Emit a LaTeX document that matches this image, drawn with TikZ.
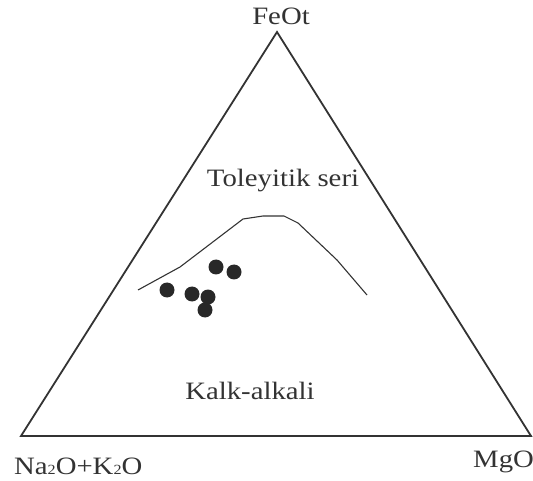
\documentclass[tikz,border=0pt]{standalone}
\usepackage{fontspec}
\setmainfont[FakeStretch=1.15]{Liberation Serif}
\usepackage{tikz}
\usetikzlibrary{positioning}
\definecolor{ink}{HTML}{333333}
\definecolor{dotink}{HTML}{282828}

\begin{document}
\begin{tikzpicture}[x=1pt,y=-1pt,
		endlabel/.style={font=\fontsize{25}{25}\selectfont,text=ink,inner sep=0pt},
		sample/.style={fill=dotink}]
	\useasboundingbox (0,0) rectangle (533,481);
	% corners of the diagram
	\coordinate (nak) at (21,436);
	\coordinate (mgo) at (531,436);
	\coordinate (feo) at (277,32);
	\draw[ink,line width=1.8pt,line join=miter] (nak) -- (mgo) -- (feo) -- cycle;
	\node[endlabel,anchor=base] (feolabel) at (281,25) {FeOt};
	\node[endlabel,anchor=base west] (naklabel) at (14,474) {Na{\fontsize{14}{14}\selectfont 2}O+K{\fontsize{14}{14}\selectfont 2}O};
	\node[endlabel,anchor=base west] (mgolabel) at (473,467) {MgO};
	% dividing line
	\draw[ink,line width=1.1pt,line join=round] (138,290) -- (180,267) -- (243,219) -- (263,216) -- (284,216) -- (298,223) -- (337,260) -- (367,295);
	\node[endlabel,anchor=base] (thol) at (283,187) {Toleyitik seri};
	\node[endlabel,anchor=base] (calc) at (250,399) {Kalk-alkali};
	% samples
	\fill[sample] (216,267) circle (7.5);
	\fill[sample] (234,272) circle (7.5);
	\fill[sample] (167,290) circle (7.5);
	\fill[sample] (192,294) circle (7.5);
	\fill[sample] (208,297) circle (7.5);
	\fill[sample] (205,310) circle (7.5);
\end{tikzpicture}
\end{document}
